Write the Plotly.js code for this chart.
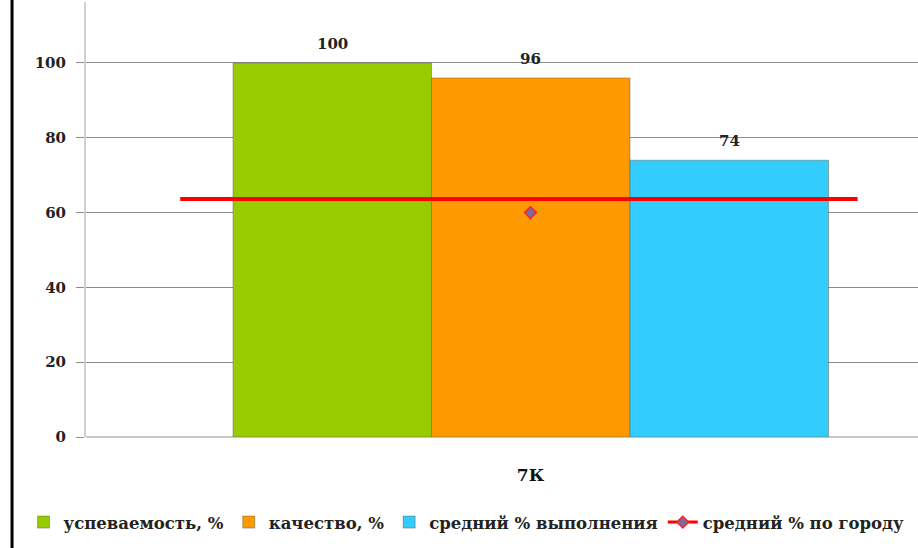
<!DOCTYPE html>
<html>
<head>
<meta charset="utf-8">
<script src="https://cdn.plot.ly/plotly-3.0.1.min.js"></script>
<style>html,body{margin:0;padding:0;background:#fff;}#chart{width:918px;height:548px;}</style>
</head>
<body>
<div id="chart"></div>
<script>
const categories = ['7К'];
const seriesNames = ['успеваемость, %', 'качество, %', 'средний % выполнения'];
const seriesValues = [[100], [96], [74]];
const seriesColors = ['#99CC00', '#FF9900', '#33CCFF'];
const cityName = 'средний % по городу';
const cityValues = [60];
const cityLineValue = [63.6];
const yTicks = [0, 20, 40, 60, 80, 100];

const FAM = 'DejaVu Serif';
const barWidth = 0.2233;
const offsets = [-0.3346, -0.1113, 0.112];
const xPos = categories.map((c, i) => i);

const traces = seriesNames.map((name, k) => ({
  type: 'bar', name: name, x: xPos, y: seriesValues[k],
  width: barWidth, offset: offsets[k],
  marker: {color: seriesColors[k], line: {color: 'rgba(90,90,60,0.45)', width: 1}},
  hoverinfo: 'y'
}));
traces.push({
  type: 'scatter', mode: 'lines+markers', name: cityName, x: xPos, y: cityValues,
  line: {color: '#FF0000', width: 3},
  marker: {symbol: 'diamond', size: 9, color: '#7E6A9E', line: {color: '#FF2020', width: 1.5}}
});

const annotations = [];
seriesNames.forEach((name, k) => {
  seriesValues[k].forEach((v, i) => {
    annotations.push({
      x: xPos[i] + offsets[k] + barWidth / 2, y: v, xref: 'x', yref: 'y',
      text: String(v), showarrow: false, yanchor: 'bottom', yshift: 8,
      font: {family: FAM, size: 15, color: '#222', weight: 'bold'}
    });
  });
});

const shapes = [
  {type: 'line', xref: 'x', yref: 'y', x0: -0.394, x1: 0.368, y0: cityLineValue[0], y1: cityLineValue[0],
   line: {color: '#FF0000', width: 4}},
  {type: 'line', xref: 'paper', yref: 'paper', x0: -0.0889, x1: -0.0889, y0: -0.3, y1: 1.01,
   line: {color: '#000', width: 3}}
];

const layout = {
  width: 918, height: 548,
  margin: {l: 86, r: 0, t: 2, b: 111},
  paper_bgcolor: '#fff', plot_bgcolor: '#fff',
  barmode: 'overlay',
  showlegend: true,
  font: {family: FAM},
  xaxis: {
    type: 'linear', range: [-0.5, 0.436],
    tickvals: xPos, ticktext: categories,
    showgrid: false, zeroline: false, showline: false,
    ticks: '', ticklabelstandoff: 26,
    tickfont: {family: FAM, size: 17, color: '#111', weight: 'bold'},
    fixedrange: true
  },
  yaxis: {
    range: [0, 116.3], tickvals: yTicks,
    showgrid: true, gridcolor: '#8c8c8c', gridwidth: 1,
    zeroline: true, zerolinecolor: '#c8c8c8', zerolinewidth: 2,
    showline: true, linecolor: '#d0d0d0', linewidth: 2,
    ticks: 'outside', ticklen: 8, tickcolor: '#8c8c8c', tickwidth: 1,
    ticklabelstandoff: 7,
    tickfont: {family: FAM, size: 15, color: '#222', weight: 'bold'},
    fixedrange: true
  },
  legend: {
    orientation: 'h', x: -0.075, xanchor: 'left', y: -0.156, yanchor: 'top',
    font: {family: FAM, size: 16.5, color: '#222', weight: 'bold'},
    itemclick: false, itemdoubleclick: false, tracegroupgap: 0,
    bgcolor: 'rgba(0,0,0,0)'
  },
  annotations: annotations,
  shapes: shapes
};

Plotly.newPlot('chart', traces, layout, {displayModeBar: false, staticPlot: true});
</script>
</body>
</html>
